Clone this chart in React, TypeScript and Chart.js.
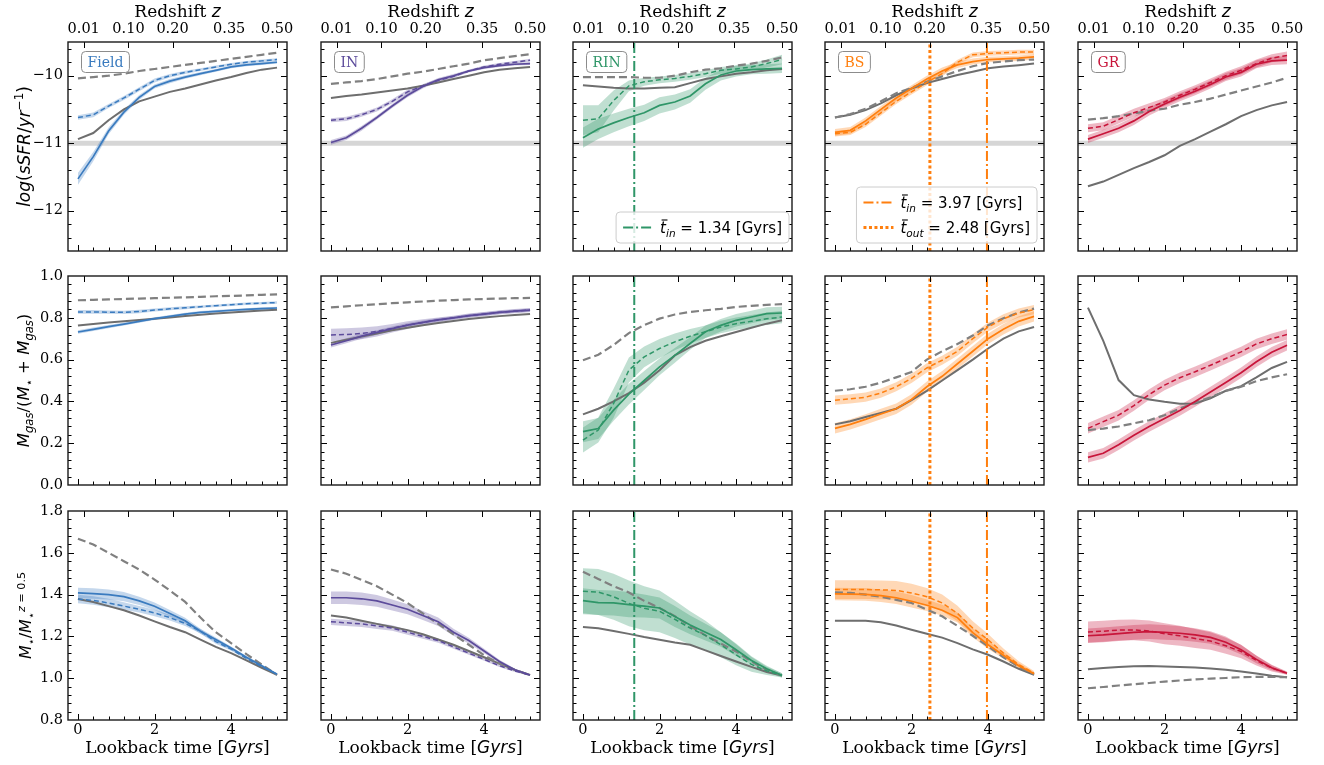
import React, { useEffect, useRef } from "react";
import { Chart, registerables } from "chart.js";

Chart.register(...registerables);

// ---------------- data ----------------
const LOOKBACK = [0, 0.4, 0.8, 1.2, 1.6, 2.0, 2.4, 2.8, 3.2, 3.6, 4.0, 4.4, 4.8, 5.2];
const Z_TICK_LABELS = ["0.01", "0.10", "0.20", "0.35", "0.50"];
const Z_TICK_LOOKBACK = [0.15, 1.32, 2.47, 3.95, 5.2];
const TIME_TICKS = [0, 2, 4];
const TIME_MINOR_STEP = 0.4;
const SSFR_TICKS = [-12, -11, -10];
const GAS_TICKS = [0, 0.2, 0.4, 0.6, 0.8, 1.0];
const MASS_TICKS = [0.8, 1.0, 1.2, 1.4, 1.6, 1.8];
const QUENCH_SSFR = -11;
const RIN_T_IN = 1.34;
const BS_T_IN = 3.97;
const BS_T_OUT = 2.48;

const ENV_NAMES = ["Field", "IN", "RIN", "BS", "GR"];
const ENV_COLORS = ["#3a7bbf", "#5c4b9b", "#2f9668", "#ff7f0e", "#c8153a"];

// Field
const fieldSsfr = [-11.53, -11.2, -10.82, -10.54, -10.32, -10.16, -10.08, -10.02, -9.97, -9.92, -9.87, -9.84, -9.82, -9.8];
const fieldSsfrErr = [0.09, 0.07, 0.05, 0.04, 0.035, 0.03, 0.03, 0.025, 0.025, 0.02, 0.02, 0.02, 0.02, 0.02];
const fieldSsfrDash = [-10.62, -10.58, -10.45, -10.33, -10.2, -10.07, -10.0, -9.95, -9.91, -9.87, -9.83, -9.8, -9.78, -9.76];
const fieldSsfrDashErr = [0.035, 0.035, 0.03, 0.03, 0.03, 0.03, 0.025, 0.025, 0.02, 0.02, 0.02, 0.02, 0.02, 0.02];
const fieldSsfrRef = [-10.94, -10.85, -10.66, -10.5, -10.38, -10.31, -10.24, -10.19, -10.13, -10.07, -10.02, -9.96, -9.91, -9.88];
const fieldSsfrRefDash = [-10.04, -10.02, -10.0, -9.97, -9.93, -9.9, -9.87, -9.84, -9.81, -9.78, -9.75, -9.72, -9.69, -9.66];

const fieldGas = [0.732, 0.745, 0.758, 0.77, 0.783, 0.796, 0.807, 0.818, 0.826, 0.831, 0.836, 0.84, 0.844, 0.847];
const fieldGasErr = [0.008, 0.008, 0.008, 0.007, 0.007, 0.007, 0.006, 0.006, 0.006, 0.006, 0.006, 0.006, 0.006, 0.006];
const fieldGasDash = [0.828, 0.828, 0.827, 0.826, 0.83, 0.837, 0.843, 0.848, 0.853, 0.858, 0.863, 0.867, 0.87, 0.873];
const fieldGasDashErr = [0.009, 0.009, 0.008, 0.008, 0.008, 0.007, 0.007, 0.007, 0.006, 0.006, 0.006, 0.006, 0.006, 0.006];
const fieldGasRef = [0.763, 0.77, 0.777, 0.783, 0.79, 0.796, 0.802, 0.809, 0.815, 0.82, 0.825, 0.83, 0.835, 0.839];
const fieldGasRefDash = [0.884, 0.886, 0.888, 0.89, 0.892, 0.894, 0.896, 0.898, 0.9, 0.903, 0.905, 0.907, 0.91, 0.912];

const fieldMass = [1.408, 1.405, 1.4, 1.39, 1.37, 1.344, 1.31, 1.275, 1.225, 1.185, 1.144, 1.1, 1.06, 1.019];
const fieldMassErr = [0.025, 0.025, 0.024, 0.022, 0.02, 0.018, 0.016, 0.014, 0.012, 0.01, 0.008, 0.006, 0.005, 0.004];
const fieldMassDash = [1.379, 1.372, 1.36, 1.345, 1.33, 1.312, 1.29, 1.262, 1.225, 1.175, 1.139, 1.095, 1.055, 1.019];
const fieldMassDashErr = [0.02, 0.02, 0.02, 0.018, 0.016, 0.015, 0.014, 0.012, 0.011, 0.01, 0.008, 0.006, 0.005, 0.004];
const fieldMassRef = [1.379, 1.365, 1.345, 1.325, 1.3, 1.272, 1.245, 1.22, 1.185, 1.15, 1.12, 1.085, 1.05, 1.016];
const fieldMassRefDash = [1.667, 1.64, 1.6, 1.56, 1.52, 1.472, 1.42, 1.365, 1.29, 1.22, 1.168, 1.115, 1.065, 1.016];

// IN
const inSsfr = [-10.99, -10.92, -10.78, -10.62, -10.45, -10.29, -10.16, -10.06, -10.0, -9.93, -9.88, -9.85, -9.83, -9.82];
const inSsfrErr = [0.035, 0.035, 0.035, 0.03, 0.03, 0.03, 0.03, 0.025, 0.025, 0.02, 0.02, 0.02, 0.02, 0.02];
const inSsfrDash = [-10.66, -10.64, -10.58, -10.5, -10.38, -10.24, -10.15, -10.07, -10.01, -9.93, -9.87, -9.83, -9.8, -9.77];
const inSsfrDashErr = [0.03, 0.03, 0.03, 0.03, 0.03, 0.03, 0.025, 0.025, 0.02, 0.02, 0.02, 0.02, 0.02, 0.02];
const inSsfrRef = [-10.33, -10.3, -10.28, -10.25, -10.22, -10.19, -10.15, -10.1, -10.05, -10.0, -9.95, -9.91, -9.89, -9.87];
const inSsfrRefDash = [-10.12, -10.1, -10.08, -10.05, -10.01, -9.97, -9.94, -9.9, -9.86, -9.82, -9.77, -9.74, -9.71, -9.68];

const inGas = [0.67, 0.69, 0.712, 0.73, 0.748, 0.765, 0.778, 0.79, 0.8, 0.81, 0.818, 0.826, 0.832, 0.837];
const inGasErr = [0.012, 0.012, 0.012, 0.011, 0.01, 0.01, 0.009, 0.009, 0.008, 0.008, 0.008, 0.008, 0.008, 0.008];
const inGasDash = [0.718, 0.72, 0.725, 0.735, 0.75, 0.765, 0.778, 0.79, 0.8, 0.81, 0.818, 0.826, 0.832, 0.837];
const inGasDashErr = [0.03, 0.03, 0.028, 0.025, 0.02, 0.018, 0.015, 0.012, 0.01, 0.01, 0.01, 0.01, 0.01, 0.01];
const inGasRef = [0.68, 0.695, 0.71, 0.725, 0.74, 0.752, 0.764, 0.775, 0.785, 0.794, 0.802, 0.808, 0.813, 0.818];
const inGasRefDash = [0.85, 0.855, 0.86, 0.865, 0.87, 0.874, 0.878, 0.882, 0.885, 0.888, 0.89, 0.892, 0.894, 0.895];

const inMass = [1.385, 1.385, 1.38, 1.37, 1.35, 1.33, 1.3, 1.27, 1.22, 1.18, 1.13, 1.08, 1.04, 1.015];
const inMassErr = [0.03, 0.03, 0.03, 0.028, 0.026, 0.024, 0.022, 0.02, 0.017, 0.014, 0.011, 0.008, 0.006, 0.004];
const inMassDash = [1.27, 1.265, 1.26, 1.25, 1.24, 1.22, 1.2, 1.18, 1.15, 1.12, 1.09, 1.06, 1.035, 1.015];
const inMassDashErr = [0.015, 0.015, 0.015, 0.014, 0.013, 0.012, 0.011, 0.01, 0.009, 0.008, 0.007, 0.006, 0.005, 0.004];
const inMassRef = [1.3, 1.29, 1.275, 1.26, 1.245, 1.23, 1.21, 1.185, 1.16, 1.13, 1.1, 1.07, 1.04, 1.015];
const inMassRefDash = [1.52, 1.5, 1.47, 1.44, 1.4, 1.36, 1.31, 1.26, 1.21, 1.16, 1.11, 1.07, 1.04, 1.015];

// RIN
const rinSsfr = [-10.92, -10.79, -10.7, -10.62, -10.55, -10.44, -10.39, -10.3, -10.12, -9.99, -9.93, -9.91, -9.9, -9.89];
const rinSsfrErr = [0.15, 0.15, 0.14, 0.13, 0.12, 0.12, 0.11, 0.1, 0.09, 0.08, 0.08, 0.07, 0.07, 0.07];
const rinSsfrDash = [-10.66, -10.64, -10.37, -10.15, -10.09, -10.06, -10.04, -10.01, -9.97, -9.92, -9.9, -9.87, -9.82, -9.76];
const rinSsfrDashErr = [0.22, 0.2, 0.15, 0.08, 0.06, 0.05, 0.05, 0.05, 0.05, 0.05, 0.05, 0.05, 0.06, 0.07];
const rinSsfrRef = [-10.14, -10.16, -10.18, -10.19, -10.19, -10.18, -10.17, -10.11, -10.05, -10.01, -9.97, -9.95, -9.92, -9.9];
const rinSsfrRefDash = [-10.02, -10.02, -10.02, -10.02, -10.03, -10.03, -10.0, -9.95, -9.91, -9.89, -9.85, -9.82, -9.78, -9.73];

const rinGas = [0.255, 0.27, 0.358, 0.435, 0.5, 0.565, 0.62, 0.677, 0.733, 0.764, 0.788, 0.804, 0.82, 0.823];
const rinGasErr = [0.05, 0.05, 0.05, 0.05, 0.045, 0.04, 0.035, 0.03, 0.03, 0.03, 0.03, 0.03, 0.03, 0.03];
const rinGasDash = [0.215, 0.263, 0.39, 0.55, 0.613, 0.653, 0.685, 0.712, 0.733, 0.756, 0.772, 0.783, 0.795, 0.804];
const rinGasDashErr = [0.06, 0.06, 0.07, 0.06, 0.05, 0.045, 0.04, 0.035, 0.03, 0.03, 0.03, 0.03, 0.03, 0.03];
const rinGasRef = [0.338, 0.365, 0.4, 0.44, 0.49, 0.549, 0.62, 0.66, 0.69, 0.712, 0.732, 0.752, 0.772, 0.788];
const rinGasRefDash = [0.597, 0.623, 0.67, 0.727, 0.765, 0.796, 0.816, 0.828, 0.836, 0.843, 0.852, 0.857, 0.862, 0.865];

const rinMass = [1.371, 1.362, 1.36, 1.352, 1.345, 1.336, 1.295, 1.255, 1.22, 1.185, 1.136, 1.085, 1.045, 1.013];
const rinMassErr = [0.06, 0.06, 0.06, 0.06, 0.055, 0.05, 0.05, 0.045, 0.04, 0.035, 0.03, 0.02, 0.015, 0.01];
const rinMassDash = [1.416, 1.412, 1.39, 1.358, 1.335, 1.32, 1.282, 1.24, 1.205, 1.16, 1.112, 1.066, 1.035, 1.013];
const rinMassDashErr = [0.11, 0.11, 0.11, 0.11, 0.105, 0.1, 0.09, 0.08, 0.07, 0.06, 0.05, 0.035, 0.02, 0.01];
const rinMassRef = [1.245, 1.239, 1.226, 1.212, 1.197, 1.184, 1.171, 1.16, 1.133, 1.106, 1.08, 1.054, 1.03, 1.013];
const rinMassRefDash = [1.509, 1.475, 1.44, 1.41, 1.37, 1.336, 1.297, 1.25, 1.205, 1.166, 1.128, 1.08, 1.04, 1.013];

// BS
const bsSsfr = [-10.84, -10.81, -10.67, -10.5, -10.33, -10.19, -10.05, -9.93, -9.84, -9.79, -9.76, -9.75, -9.74, -9.72];
const bsSsfrErr = [0.05, 0.05, 0.05, 0.05, 0.05, 0.05, 0.05, 0.05, 0.045, 0.045, 0.04, 0.04, 0.04, 0.04];
const bsSsfrDash = [-10.86, -10.84, -10.72, -10.55, -10.38, -10.24, -10.1, -9.97, -9.8, -9.69, -9.67, -9.66, -9.65, -9.65];
const bsSsfrDashErr = [0.04, 0.04, 0.04, 0.04, 0.04, 0.04, 0.04, 0.04, 0.035, 0.035, 0.035, 0.035, 0.035, 0.035];
const bsSsfrRef = [-10.62, -10.58, -10.51, -10.41, -10.29, -10.19, -10.11, -10.05, -9.99, -9.94, -9.89, -9.865, -9.845, -9.82];
const bsSsfrRefDash = [-10.62, -10.57, -10.49, -10.38, -10.26, -10.18, -10.09, -10.01, -9.93, -9.86, -9.81, -9.79, -9.77, -9.76];

const bsGas = [0.271, 0.29, 0.314, 0.34, 0.365, 0.409, 0.47, 0.52, 0.58, 0.64, 0.7, 0.745, 0.783, 0.807];
const bsGasErr = [0.025, 0.025, 0.025, 0.025, 0.025, 0.025, 0.025, 0.025, 0.025, 0.025, 0.025, 0.025, 0.025, 0.025];
const bsGasDash = [0.406, 0.412, 0.42, 0.44, 0.47, 0.51, 0.56, 0.597, 0.64, 0.7, 0.756, 0.795, 0.823, 0.839];
const bsGasDashErr = [0.022, 0.022, 0.022, 0.022, 0.022, 0.022, 0.022, 0.022, 0.022, 0.022, 0.022, 0.022, 0.022, 0.022];
const bsGasRef = [0.29, 0.305, 0.325, 0.345, 0.365, 0.406, 0.45, 0.5, 0.55, 0.6, 0.653, 0.7, 0.735, 0.756];
const bsGasRefDash = [0.451, 0.458, 0.47, 0.49, 0.515, 0.541, 0.6, 0.64, 0.675, 0.715, 0.764, 0.798, 0.825, 0.844];

const bsMass = [1.403, 1.402, 1.401, 1.395, 1.385, 1.368, 1.349, 1.325, 1.29, 1.218, 1.16, 1.11, 1.06, 1.021];
const bsMassErr = [0.03, 0.03, 0.03, 0.03, 0.03, 0.03, 0.028, 0.026, 0.024, 0.022, 0.02, 0.016, 0.012, 0.008];
const bsMassDash = [1.424, 1.424, 1.424, 1.423, 1.42, 1.408, 1.39, 1.36, 1.31, 1.24, 1.184, 1.12, 1.065, 1.024];
const bsMassDashErr = [0.045, 0.045, 0.045, 0.045, 0.045, 0.044, 0.042, 0.04, 0.037, 0.033, 0.028, 0.022, 0.016, 0.01];
const bsMassRef = [1.275, 1.275, 1.275, 1.268, 1.252, 1.232, 1.213, 1.194, 1.168, 1.138, 1.112, 1.08, 1.045, 1.016];
const bsMassRefDash = [1.411, 1.408, 1.4, 1.39, 1.375, 1.36, 1.328, 1.296, 1.25, 1.203, 1.152, 1.1, 1.055, 1.019];

// GR
const grSsfr = [-10.94, -10.86, -10.78, -10.67, -10.53, -10.42, -10.32, -10.23, -10.13, -10.02, -9.95, -9.83, -9.78, -9.77];
const grSsfrErr = [0.06, 0.06, 0.06, 0.06, 0.06, 0.06, 0.06, 0.06, 0.06, 0.06, 0.06, 0.06, 0.06, 0.06];
const grSsfrDash = [-10.78, -10.75, -10.65, -10.55, -10.47, -10.39, -10.29, -10.2, -10.1, -10.0, -9.92, -9.82, -9.74, -9.7];
const grSsfrDashErr = [0.06, 0.06, 0.06, 0.06, 0.06, 0.06, 0.06, 0.06, 0.06, 0.06, 0.06, 0.06, 0.06, 0.06];
const grSsfrRef = [-11.64, -11.57, -11.47, -11.37, -11.28, -11.18, -11.04, -10.94, -10.83, -10.72, -10.6, -10.51, -10.44, -10.39];
const grSsfrRefDash = [-10.65, -10.63, -10.6, -10.56, -10.52, -10.49, -10.43, -10.39, -10.34, -10.28, -10.22, -10.16, -10.1, -10.03];

const grGas = [0.132, 0.152, 0.193, 0.238, 0.28, 0.318, 0.356, 0.4, 0.445, 0.49, 0.537, 0.59, 0.635, 0.669];
const grGasErr = [0.025, 0.025, 0.025, 0.025, 0.025, 0.025, 0.025, 0.025, 0.025, 0.025, 0.025, 0.025, 0.025, 0.025];
const grGasDash = [0.271, 0.303, 0.334, 0.38, 0.433, 0.478, 0.513, 0.542, 0.573, 0.605, 0.637, 0.675, 0.7, 0.72];
const grGasDashErr = [0.025, 0.025, 0.025, 0.025, 0.025, 0.025, 0.025, 0.025, 0.025, 0.025, 0.025, 0.025, 0.025, 0.025];
const grGasRef = [0.849, 0.69, 0.502, 0.43, 0.409, 0.398, 0.389, 0.39, 0.415, 0.451, 0.473, 0.515, 0.56, 0.589];
const grGasRefDash = [0.263, 0.27, 0.28, 0.295, 0.31, 0.334, 0.366, 0.395, 0.42, 0.45, 0.47, 0.497, 0.515, 0.53];

const grMass = [1.203, 1.207, 1.213, 1.219, 1.223, 1.219, 1.215, 1.207, 1.195, 1.172, 1.136, 1.09, 1.05, 1.024];
const grMassErr = [0.035, 0.035, 0.035, 0.035, 0.035, 0.035, 0.034, 0.032, 0.03, 0.027, 0.023, 0.018, 0.012, 0.006];
const grMassDash = [1.221, 1.225, 1.23, 1.231, 1.226, 1.213, 1.203, 1.19, 1.178, 1.155, 1.128, 1.085, 1.048, 1.024];
const grMassDashErr = [0.05, 0.05, 0.05, 0.05, 0.05, 0.05, 0.048, 0.045, 0.042, 0.038, 0.032, 0.024, 0.016, 0.008];
const grMassRef = [1.043, 1.049, 1.054, 1.057, 1.058, 1.056, 1.054, 1.051, 1.046, 1.04, 1.032, 1.022, 1.012, 1.005];
const grMassRefDash = [0.952, 0.958, 0.965, 0.971, 0.977, 0.984, 0.989, 0.994, 0.998, 1.001, 1.005, 1.006, 1.006, 1.005];

type Series = {
  sat: number[]; satErr: number[]; dash: number[]; dashErr: number[]; ref: number[]; refDash: number[];
};
const mk = (sat: number[], satErr: number[], dash: number[], dashErr: number[], ref: number[], refDash: number[]): Series =>
  ({ sat, satErr, dash, dashErr, ref, refDash });

const PANEL_DATA: Series[][] = [
  [
    mk(fieldSsfr, fieldSsfrErr, fieldSsfrDash, fieldSsfrDashErr, fieldSsfrRef, fieldSsfrRefDash),
    mk(fieldGas, fieldGasErr, fieldGasDash, fieldGasDashErr, fieldGasRef, fieldGasRefDash),
    mk(fieldMass, fieldMassErr, fieldMassDash, fieldMassDashErr, fieldMassRef, fieldMassRefDash),
  ],
  [
    mk(inSsfr, inSsfrErr, inSsfrDash, inSsfrDashErr, inSsfrRef, inSsfrRefDash),
    mk(inGas, inGasErr, inGasDash, inGasDashErr, inGasRef, inGasRefDash),
    mk(inMass, inMassErr, inMassDash, inMassDashErr, inMassRef, inMassRefDash),
  ],
  [
    mk(rinSsfr, rinSsfrErr, rinSsfrDash, rinSsfrDashErr, rinSsfrRef, rinSsfrRefDash),
    mk(rinGas, rinGasErr, rinGasDash, rinGasDashErr, rinGasRef, rinGasRefDash),
    mk(rinMass, rinMassErr, rinMassDash, rinMassDashErr, rinMassRef, rinMassRefDash),
  ],
  [
    mk(bsSsfr, bsSsfrErr, bsSsfrDash, bsSsfrDashErr, bsSsfrRef, bsSsfrRefDash),
    mk(bsGas, bsGasErr, bsGasDash, bsGasDashErr, bsGasRef, bsGasRefDash),
    mk(bsMass, bsMassErr, bsMassDash, bsMassDashErr, bsMassRef, bsMassRefDash),
  ],
  [
    mk(grSsfr, grSsfrErr, grSsfrDash, grSsfrDashErr, grSsfrRef, grSsfrRefDash),
    mk(grGas, grGasErr, grGasDash, grGasDashErr, grGasRef, grGasRefDash),
    mk(grMass, grMassErr, grMassDash, grMassDashErr, grMassRef, grMassRefDash),
  ],
];

// ---------------- layout / style ----------------
const PANEL_LEFTS = [68, 321, 573, 825, 1078];
const PANEL_TOPS = [42, 276, 511];
const PANEL_W = 219;
const PANEL_H = 209;
const PAD_L = 70;
const PAD_R = 12;
const PAD_T = 46;
const PAD_B = 45;
const X_MIN = -0.26;
const X_MAX = 5.46;
const Y_TITLE_X = [30, 29, 31];
const TITLE_SIZE = 17;
const Y_TITLE_SIZE = [17, 16.5, 16];

const SERIF = '"DejaVu Serif", serif';
const SANS = '"DejaVu Sans", sans-serif';
const GRAY_SOLID = "#6e6e6e";
const GRAY_DASH = "#808080";

const minus = (v: number) => (v < 0 ? "\u2212" + Math.abs(v) : String(v));
const ROW_CFG = [
  { min: -12.6, max: -9.5, ticks: SSFR_TICKS, minorStep: 0.2, fmt: (v: number) => minus(v) },
  { min: 0, max: 1.0, ticks: GAS_TICKS, minorStep: 0.04, fmt: (v: number) => v.toFixed(1) },
  { min: 0.8, max: 1.8, ticks: MASS_TICKS, minorStep: 0.04, fmt: (v: number) => v.toFixed(1) },
];

function rgba(hex: string, a: number) {
  const n = parseInt(hex.slice(1), 16);
  return `rgba(${(n >> 16) & 255},${(n >> 8) & 255},${n & 255},${a})`;
}

type Seg = { t: string; font: string; dy?: number; bar?: boolean };

function segsWidth(ctx: CanvasRenderingContext2D, segs: Seg[]) {
  let w = 0;
  for (const s of segs) {
    ctx.font = s.font;
    w += ctx.measureText(s.t).width;
  }
  return w;
}

function drawSegs(ctx: CanvasRenderingContext2D, segs: Seg[], x: number, y: number) {
  let cx = x;
  ctx.textAlign = "left";
  ctx.textBaseline = "alphabetic";
  for (const s of segs) {
    ctx.font = s.font;
    ctx.fillText(s.t, cx, y + (s.dy || 0));
    const w = ctx.measureText(s.t).width;
    if (s.bar) {
      ctx.save();
      ctx.strokeStyle = ctx.fillStyle as string;
      ctx.lineWidth = 1.1;
      ctx.beginPath();
      ctx.moveTo(cx + 1.5, y - 13);
      ctx.lineTo(cx + w + 1.5, y - 13);
      ctx.stroke();
      ctx.restore();
    }
    cx += w;
  }
}

function drawCentered(ctx: CanvasRenderingContext2D, segs: Seg[], cx: number, y: number) {
  const w = segsWidth(ctx, segs);
  drawSegs(ctx, segs, cx - w / 2, y);
}

const F = (size: number, italic = false, fam = SANS) => `${italic ? "italic " : ""}${size}px ${fam}`;

function yTitle(row: number): Seg[] {
  const s = Y_TITLE_SIZE[row];
  const sm = s * 0.7;
  const sub = s * 0.24;
  const sup = -s * 0.4;
  if (row === 0)
    return [
      { t: "log", font: F(s, true) },
      { t: "(", font: F(s) },
      { t: "sSFR", font: F(s, true) },
      { t: "/", font: F(s) },
      { t: "yr", font: F(s, true) },
      { t: "\u22121", font: F(sm), dy: sup },
      { t: ")", font: F(s) },
    ];
  if (row === 1)
    return [
      { t: "M", font: F(s, true) },
      { t: "gas", font: F(sm, true), dy: sub },
      { t: "/(", font: F(s) },
      { t: "M", font: F(s, true) },
      { t: "\u22c6", font: F(sm), dy: sub },
      { t: " + ", font: F(s) },
      { t: "M", font: F(s, true) },
      { t: "gas", font: F(sm, true), dy: sub },
      { t: ")", font: F(s) },
    ];
  return [
    { t: "M", font: F(s, true) },
    { t: "\u22c6", font: F(sm), dy: sub },
    { t: "/", font: F(s) },
    { t: "M", font: F(s, true) },
    { t: "\u22c6", font: F(sm), dy: sub },
    { t: "z", font: F(sm, true), dy: sup },
    { t: " = 0.5", font: F(sm), dy: sup },
  ];
}

type LegendEntry = { kind: "dashdot" | "dotted"; segs: Seg[] };
const legendText = (sub: string, val: string): Seg[] => [
  { t: "t", font: F(15, true), bar: true },
  { t: sub, font: F(10.5, true), dy: 3.5 },
  { t: ` = ${val} [Gyrs]`, font: F(15) },
];
const LEGENDS: Record<number, { entries: LegendEntry[]; rightGap: number }> = {
  2: { entries: [{ kind: "dashdot", segs: legendText("in", RIN_T_IN.toFixed(2)) }], rightGap: 3 },
  3: {
    entries: [
      { kind: "dashdot", segs: legendText("in", BS_T_IN.toFixed(2)) },
      { kind: "dotted", segs: legendText("out", BS_T_OUT.toFixed(2)) },
    ],
    rightGap: 7,
  },
};

const DASHDOT = [10, 3, 2, 3];
const DOTTED = [3, 2.5];

function roundRect(ctx: CanvasRenderingContext2D, x: number, y: number, w: number, h: number, r: number) {
  ctx.beginPath();
  ctx.moveTo(x + r, y);
  ctx.lineTo(x + w - r, y);
  ctx.quadraticCurveTo(x + w, y, x + w, y + r);
  ctx.lineTo(x + w, y + h - r);
  ctx.quadraticCurveTo(x + w, y + h, x + w - r, y + h);
  ctx.lineTo(x + r, y + h);
  ctx.quadraticCurveTo(x, y + h, x, y + h - r);
  ctx.lineTo(x, y + r);
  ctx.quadraticCurveTo(x, y, x + r, y);
  ctx.closePath();
}

function makeDecor(row: number, col: number) {
  const cfg = ROW_CFG[row];
  const color = ENV_COLORS[col];
  return {
    id: "panelDecor",
    afterDraw(chart: any) {
      const ctx: CanvasRenderingContext2D = chart.ctx;
      const a = chart.chartArea;
      const xs = chart.scales.x;
      const ys = chart.scales.y;
      ctx.save();

      // inward ticks
      ctx.strokeStyle = "#000";
      const seg = (x1: number, y1: number, x2: number, y2: number, w: number) => {
        ctx.lineWidth = w;
        ctx.beginPath();
        ctx.moveTo(x1, y1);
        ctx.lineTo(x2, y2);
        ctx.stroke();
      };
      const MAJ = 6, MIN = 3.5;
      for (let k = 0; k * TIME_MINOR_STEP <= X_MAX; k++) {
        const v = k * TIME_MINOR_STEP;
        const isMajor = TIME_TICKS.some((m) => Math.abs(m - v) < 1e-6);
        const px = Math.round(xs.getPixelForValue(v)) + 0.5;
        seg(px, a.bottom, px, a.bottom - (isMajor ? MAJ : MIN), 1);
      }
      for (const m of TIME_TICKS) {
        const px = Math.round(xs.getPixelForValue(m)) + 0.5;
        seg(px, a.bottom, px, a.bottom - MAJ, 1);
      }
      for (const v of Z_TICK_LOOKBACK) {
        const px = Math.round(xs.getPixelForValue(v)) + 0.5;
        seg(px, a.top, px, a.top + MAJ, 1);
      }
      const kStart = Math.ceil(cfg.min / cfg.minorStep - 1e-6);
      const kEnd = Math.floor(cfg.max / cfg.minorStep + 1e-6);
      for (let k = kStart; k <= kEnd; k++) {
        const v = k * cfg.minorStep;
        if (Math.abs(v - cfg.min) < 1e-6 || Math.abs(v - cfg.max) < 1e-6) continue;
        const isMajor = cfg.ticks.some((m) => Math.abs(m - v) < 1e-6);
        const py = Math.round(ys.getPixelForValue(v)) + 0.5;
        const L = isMajor ? MAJ : MIN;
        seg(a.left, py, a.left + L, py, 1);
        seg(a.right, py, a.right - L, py, 1);
      }

      // frame
      ctx.lineWidth = 1.4;
      ctx.strokeStyle = "#1a1a1a";
      ctx.strokeRect(a.left, a.top, a.right - a.left, a.bottom - a.top);

      ctx.fillStyle = "#000";
      if (row === 0) {
        drawCentered(
          ctx,
          [
            { t: "Redshift ", font: F(TITLE_SIZE, false, SERIF) },
            { t: "z", font: F(TITLE_SIZE, true) },
          ],
          (a.left + a.right) / 2,
          a.top - 25
        );
      }
      if (row === 2) {
        drawCentered(
          ctx,
          [
            { t: "Lookback time [", font: F(TITLE_SIZE, false, SERIF) },
            { t: "Gyrs", font: F(TITLE_SIZE, true) },
            { t: "]", font: F(TITLE_SIZE, false, SERIF) },
          ],
          (a.left + a.right) / 2,
          a.bottom + 33
        );
      }
      if (col === 0) {
        ctx.save();
        ctx.translate(a.left - (PANEL_LEFTS[0] - Y_TITLE_X[row]), (a.top + a.bottom) / 2);
        ctx.rotate(-Math.PI / 2);
        drawCentered(ctx, yTitle(row), 0, 0);
        ctx.restore();
      }

      if (row === 0) {
        ctx.font = F(14, false, SERIF);
        const tw = ctx.measureText(ENV_NAMES[col]).width;
        const bx = a.left + 13, by = a.top + 9, bw = tw + 12, bh = 21;
        roundRect(ctx, bx + 0.5, by + 0.5, bw, bh, 4);
        ctx.fillStyle = "rgba(255,255,255,0.9)";
        ctx.fill();
        ctx.strokeStyle = "#8c8c8c";
        ctx.lineWidth = 1;
        ctx.stroke();
        ctx.fillStyle = color;
        ctx.textAlign = "left";
        ctx.textBaseline = "alphabetic";
        ctx.fillText(ENV_NAMES[col], bx + 6.5, by + 15.5);
      }

      const lg = LEGENDS[col];
      if (row === 0 && lg) {
        const padX = 7, handle = 30, gap = 7, rowH = 25;
        let tw = 0;
        for (const e of lg.entries) tw = Math.max(tw, segsWidth(ctx, e.segs));
        const bw = padX + handle + gap + tw + padX;
        const bh = 6 + rowH * lg.entries.length;
        const bx = a.right - lg.rightGap - bw;
        const by = a.bottom - 8 - bh;
        roundRect(ctx, bx, by, bw, bh, 4);
        ctx.fillStyle = "rgba(255,255,255,0.8)";
        ctx.fill();
        ctx.strokeStyle = "#cccccc";
        ctx.lineWidth = 1;
        ctx.stroke();
        lg.entries.forEach((e, i) => {
          const cy = by + 15.5 + rowH * i;
          ctx.save();
          ctx.strokeStyle = color;
          ctx.lineWidth = e.kind === "dotted" ? 3 : 2;
          ctx.setLineDash(e.kind === "dotted" ? DOTTED : DASHDOT);
          ctx.beginPath();
          ctx.moveTo(bx + padX, cy);
          ctx.lineTo(bx + padX + handle, cy);
          ctx.stroke();
          ctx.restore();
          ctx.fillStyle = "#000";
          drawSegs(ctx, e.segs, bx + padX + handle + gap, cy + 5.5);
        });
      }
      ctx.restore();
    },
  };
}

function buildConfig(row: number, col: number): any {
  const cfg = ROW_CFG[row];
  const d = PANEL_DATA[col][row];
  const color = ENV_COLORS[col];
  const pts = (arr: number[]) => LOOKBACK.map((t, i) => ({ x: t, y: arr[i] }));
  const datasets: any[] = [];
  const base = { pointRadius: 0, pointHoverRadius: 0, tension: 0, fill: false };

  if (row === 0) {
    datasets.push({
      ...base,
      data: [
        { x: X_MIN, y: QUENCH_SSFR },
        { x: X_MAX, y: QUENCH_SSFR },
      ],
      borderColor: "#d6d6d6",
      borderWidth: 5,
      order: 100,
    });
  }
  const addBand = (center: number[], err: number[]) => {
    datasets.push({ ...base, data: pts(center.map((v, i) => v - err[i])), borderWidth: 0, borderColor: "transparent", order: 50 });
    datasets.push({
      ...base,
      data: pts(center.map((v, i) => v + err[i])),
      borderWidth: 0,
      borderColor: "transparent",
      fill: "-1",
      backgroundColor: rgba(color, 0.3),
      order: 50,
    });
  };
  addBand(d.sat, d.satErr);
  addBand(d.dash, d.dashErr);

  datasets.push({ ...base, data: pts(d.refDash), borderColor: GRAY_DASH, borderWidth: 2.2, borderDash: [8, 4], order: 30 });
  datasets.push({ ...base, data: pts(d.ref), borderColor: GRAY_SOLID, borderWidth: 2, order: 30 });
  datasets.push({ ...base, data: pts(d.dash), borderColor: color, borderWidth: 1.5, borderDash: [5, 3], order: 20 });
  datasets.push({ ...base, data: pts(d.sat), borderColor: color, borderWidth: 1.7, order: 20 });

  const vline = (x: number, dash: number[], w: number) =>
    datasets.push({
      ...base,
      data: [
        { x, y: cfg.min },
        { x, y: cfg.max },
      ],
      borderColor: color,
      borderWidth: w,
      borderDash: dash,
      order: 10,
    });
  if (col === 2) vline(RIN_T_IN, DASHDOT, 2);
  if (col === 3) {
    vline(BS_T_OUT, DOTTED, 3);
    vline(BS_T_IN, DASHDOT, 2);
  }

  const tickFont = { family: SERIF, size: 14.5 };
  const noGrid = { display: false, drawTicks: false, tickLength: 0 };
  return {
    type: "line",
    data: { datasets },
    options: {
      animation: false,
      responsive: false,
      devicePixelRatio: 1,
      events: [],
      layout: { padding: { left: 0, right: PAD_R, top: 0, bottom: 0 } },
      plugins: { legend: { display: false }, tooltip: { enabled: false }, title: { display: false } },
      scales: {
        x: {
          type: "linear",
          axis: "x",
          position: "bottom",
          min: X_MIN,
          max: X_MAX,
          grid: noGrid,
          border: { display: false },
          ticks: {
            display: row === 2,
            color: "#000",
            font: tickFont,
            padding: 2,
            autoSkip: false,
            maxRotation: 0,
            minRotation: 0,
            callback: (v: number) => String(v),
          },
          afterBuildTicks: (s: any) => {
            s.ticks = TIME_TICKS.map((v) => ({ value: v }));
          },
          afterFit: (s: any) => {
            s.height = PAD_B;
            s.paddingLeft = 0;
            s.paddingRight = 0;
          },
        },
        xTop: {
          type: "linear",
          axis: "x",
          position: "top",
          min: X_MIN,
          max: X_MAX,
          grid: noGrid,
          border: { display: false },
          ticks: {
            display: row === 0,
            color: "#000",
            font: tickFont,
            padding: 4,
            autoSkip: false,
            maxRotation: 0,
            minRotation: 0,
            callback: (_v: number, i: number) => Z_TICK_LABELS[i],
          },
          afterBuildTicks: (s: any) => {
            s.ticks = Z_TICK_LOOKBACK.map((v) => ({ value: v }));
          },
          afterFit: (s: any) => {
            s.height = PAD_T;
            s.paddingLeft = 0;
            s.paddingRight = 0;
          },
        },
        y: {
          type: "linear",
          axis: "y",
          position: "left",
          min: cfg.min,
          max: cfg.max,
          grid: noGrid,
          border: { display: false },
          ticks: {
            display: col === 0,
            color: "#000",
            font: tickFont,
            padding: 5,
            autoSkip: false,
            callback: (v: number) => cfg.fmt(v),
          },
          afterBuildTicks: (s: any) => {
            s.ticks = cfg.ticks.map((v) => ({ value: v }));
          },
          afterFit: (s: any) => {
            s.width = PAD_L;
            s.paddingTop = 0;
            s.paddingBottom = 0;
          },
        },
      },
    },
    plugins: [makeDecor(row, col)],
  };
}

function Panel({ row, col }: { row: number; col: number }) {
  const ref = useRef<HTMLCanvasElement>(null);
  useEffect(() => {
    const canvas = ref.current;
    if (!canvas) return;
    const chart = new Chart(canvas, buildConfig(row, col));
    return () => chart.destroy();
  }, [row, col]);
  const w = PANEL_W + PAD_L + PAD_R;
  const h = PANEL_H + PAD_T + PAD_B;
  return (
    <canvas
      ref={ref}
      width={w}
      height={h}
      style={{ position: "absolute", left: PANEL_LEFTS[col] - PAD_L, top: PANEL_TOPS[row] - PAD_T, width: w, height: h }}
    />
  );
}

export default function App() {
  const panels: React.ReactNode[] = [];
  for (let r = 0; r < 3; r++) for (let c = 0; c < 5; c++) panels.push(<Panel key={`${r}-${c}`} row={r} col={c} />);
  return (
    <div style={{ position: "fixed", left: 0, top: 0, width: 1324, height: 765, overflow: "hidden", background: "#fff" }}>
      {panels}
    </div>
  );
}
